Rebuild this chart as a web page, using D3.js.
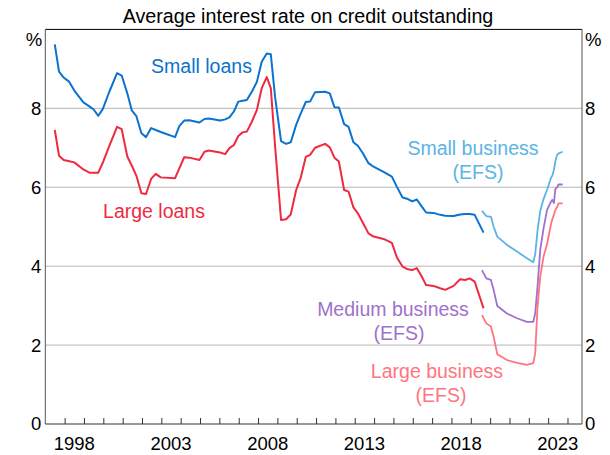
<!DOCTYPE html>
<html><head><meta charset="utf-8">
<script src="https://cdn.jsdelivr.net/npm/d3@7"></script>
<style>body{margin:0;background:#fff}svg{display:block}text{font-family:"Liberation Sans",Arial,sans-serif}</style>
</head><body>
<svg id="c" width="610" height="455"></svg>
<script>
const title = "Average interest rate on credit outstanding";
const yTicks = [0, 2, 4, 6, 8];
const xTickYears = [1998, 2003, 2008, 2013, 2018, 2023];

const loanDates = [1997.49,1997.71,1997.95,1998.24,1998.5,1998.97,1999.28,1999.5,1999.74,1999.97,2000.31,2000.71,2000.95,2001.24,2001.47,2001.71,2001.97,2002.21,2002.47,2002.71,2002.97,2003.71,2003.93,2004.18,2004.45,2004.97,2005.23,2005.45,2006.04,2006.3,2006.52,2006.75,2006.98,2007.2,2007.42,2007.68,2007.94,2008.19,2008.45,2008.66,2008.88,2009.19,2009.45,2009.69,2009.97,2010.2,2010.47,2010.69,2010.95,2011.47,2011.71,2011.95,2012.18,2012.45,2012.68,2012.93,2013.16,2013.42,2013.71,2013.97,2014.49,2014.92,2015.18,2015.47,2015.75,2015.97,2016.21,2016.45,2016.69,2017.07,2017.42,2017.68,2018.11,2018.45,2018.71,2018.94,2019.2,2019.66];
const smallLoans = [9.62,8.93,8.78,8.67,8.45,8.15,8.05,7.97,7.81,7.98,8.42,8.89,8.83,8.38,7.95,7.80,7.37,7.27,7.50,7.45,7.40,7.27,7.55,7.69,7.70,7.64,7.73,7.74,7.69,7.72,7.77,7.92,8.17,8.19,8.21,8.42,8.67,9.18,9.39,9.37,8.29,7.17,7.10,7.14,7.58,7.86,8.16,8.17,8.41,8.42,8.38,8.03,8.02,7.60,7.53,7.14,7.05,6.86,6.61,6.52,6.39,6.27,6.01,5.74,5.70,5.64,5.69,5.52,5.36,5.35,5.30,5.28,5.27,5.31,5.32,5.32,5.30,4.85];
const largeLoans = [7.45,6.80,6.69,6.66,6.63,6.45,6.37,6.37,6.37,6.62,7.05,7.53,7.47,6.78,6.55,6.29,5.85,5.83,6.21,6.34,6.25,6.23,6.48,6.76,6.75,6.69,6.90,6.93,6.88,6.84,6.99,7.07,7.30,7.39,7.41,7.66,7.96,8.51,8.79,8.51,7.05,5.17,5.19,5.31,5.93,6.23,6.77,6.82,7.00,7.10,7.01,6.75,6.65,5.93,5.89,5.49,5.34,5.10,4.83,4.75,4.69,4.59,4.22,3.99,3.92,3.90,3.95,3.75,3.52,3.50,3.44,3.40,3.50,3.67,3.65,3.69,3.61,2.93];

const efsDates = [2019.58,2019.8,2020.04,2020.18,2020.37,2020.87,2021.39,2021.9,2022.23,2022.33,2022.45,2022.59,2022.76,2022.94,2023.14,2023.22,2023.3,2023.37,2023.46,2023.54,2023.75];
const smallBusiness = [5.40,5.27,5.25,5.00,4.75,4.54,4.37,4.20,4.10,4.30,4.90,5.40,5.70,5.93,6.23,6.30,6.45,6.65,6.82,6.86,6.90];
const mediumBusiness = [3.90,3.69,3.65,3.40,2.99,2.80,2.68,2.59,2.59,2.80,3.48,4.41,4.95,5.42,5.63,5.68,5.60,5.95,6.00,6.07,6.07];
const largeBusiness = [2.76,2.55,2.47,2.21,1.77,1.62,1.55,1.50,1.54,1.79,2.97,3.73,4.24,4.55,5.05,5.20,5.30,5.42,5.50,5.59,5.59];

const colors = {small:"#0a72d0", large:"#ee2a3f", sb:"#5ab4e6", mb:"#a071cc", lb:"#ff7480"};

const svg = d3.select("#c");
const L = 45.3, R = 582, T = 29.4, B = 424;
const x = d3.scaleLinear().domain([1997, 2024.75]).range([L, R]);
const y = d3.scaleLinear().domain([0, 10]).range([B, T]);

svg.append("text").attr("x", 308).attr("y", 23).attr("text-anchor","middle")
  .attr("font-size", 19.7).attr("fill","#000").text(title);

svg.append("g").selectAll("line").data(yTicks.filter(d=>d>0)).join("line")
  .attr("x1", L).attr("x2", R).attr("y1", d=>y(d)).attr("y2", d=>y(d))
  .attr("stroke","#b5b5b5").attr("stroke-width",1);

svg.append("line").attr("x1",L).attr("x2",R).attr("y1",T).attr("y2",T).attr("stroke","#000");
svg.append("line").attr("x1",L).attr("x2",L).attr("y1",T).attr("y2",B).attr("stroke","#555");
svg.append("line").attr("x1",R).attr("x2",R).attr("y1",T).attr("y2",B).attr("stroke","#555");

const years = d3.range(1998, 2025);
const xAxis = d3.axisBottom(x).tickValues(years).tickSize(-6).tickFormat("");
const gx = svg.append("g").attr("transform",`translate(0,${B})`).call(xAxis);
gx.select(".domain").attr("stroke","#333").attr("d", `M${L},0H${R}`);
gx.selectAll(".tick line").attr("stroke","#333");
svg.append("g").selectAll("text").data(xTickYears).join("text")
  .attr("x", d=>x(d+0.5)).attr("y", 450).attr("text-anchor","middle")
  .attr("font-size", 18.5).attr("fill","#000").text(d=>d);

const yl = svg.append("g");
yl.selectAll("text.l").data(yTicks).join("text").attr("class","l")
  .attr("x", L-4).attr("y", d=>y(d)).attr("dy","0.35em").attr("text-anchor","end")
  .attr("font-size",18.5).text(d=>d);
yl.selectAll("text.r").data(yTicks).join("text").attr("class","r")
  .attr("x", R+3).attr("y", d=>y(d)).attr("dy","0.35em").attr("text-anchor","start")
  .attr("font-size",18.5).text(d=>d);
svg.append("text").attr("x",L-3).attr("y",40).attr("dy","0.35em").attr("text-anchor","end").attr("font-size",18.5).text("%");
svg.append("text").attr("x",R+3).attr("y",40).attr("dy","0.35em").attr("text-anchor","start").attr("font-size",18.5).text("%");

const line = d3.line().x(d=>x(d[0])).y(d=>y(d[1]));
function draw(dates, vals, col, w){
  svg.append("path").datum(dates.map((d,i)=>[d, vals[i]]))
    .attr("d", line).attr("fill","none").attr("stroke", col)
    .attr("stroke-width", w).attr("stroke-linejoin","round");
}
draw(loanDates, smallLoans, colors.small, 2);
draw(loanDates, largeLoans, colors.large, 2);
draw(efsDates, smallBusiness, colors.sb, 1.8);
draw(efsDates, mediumBusiness, colors.mb, 1.8);
draw(efsDates, largeBusiness, colors.lb, 1.8);

function label(lines, xs, by, col){
  lines.forEach((t,i)=>svg.append("text").attr("x",xs[i]).attr("y",by+i*23.5)
    .attr("text-anchor","middle").attr("font-size",19.5).attr("fill",col).text(t));
}
label(["Small loans"], [201.5], 73, colors.small);
label(["Large loans"], [154], 217.5, colors.large);
label(["Small business","(EFS)"], [473, 478], 155, colors.sb);
label(["Medium business","(EFS)"], [393, 399], 316, colors.mb);
label(["Large business","(EFS)"], [437, 441], 378, colors.lb);
</script>
</body></html>
